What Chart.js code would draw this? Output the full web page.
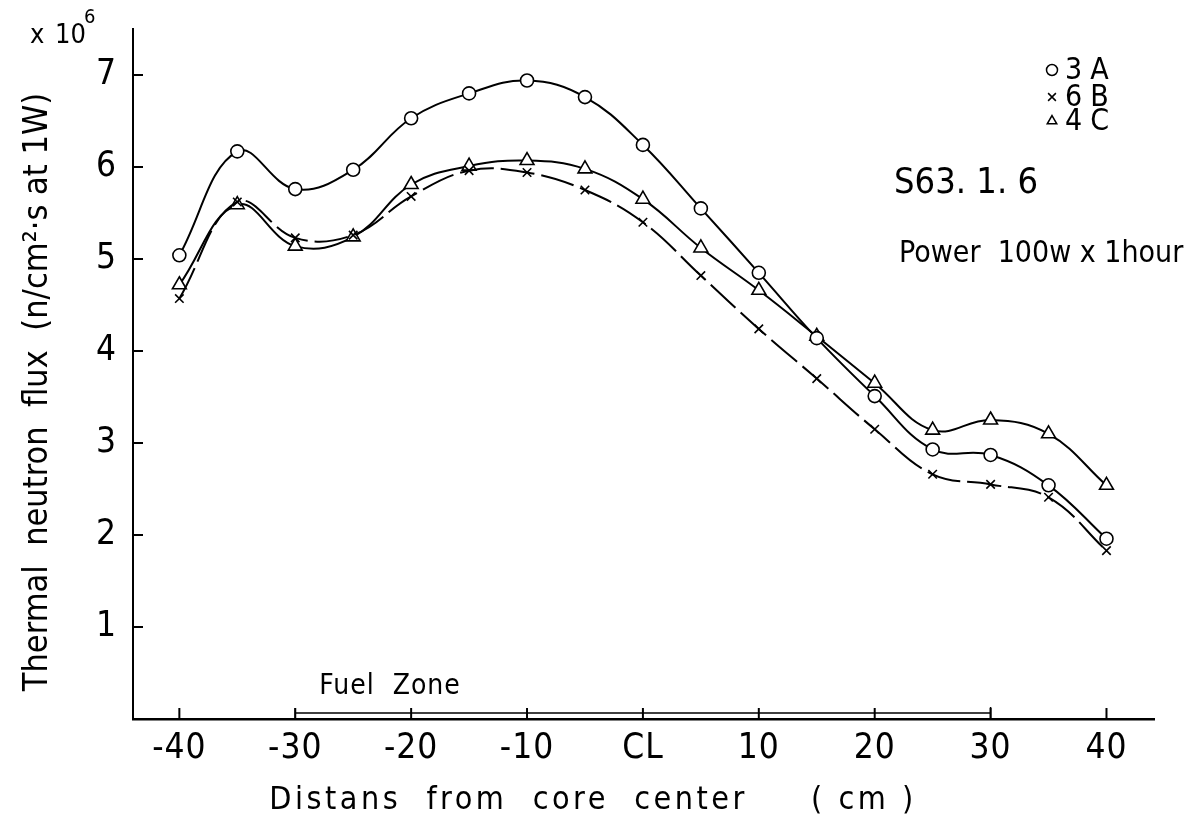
<!DOCTYPE html>
<html>
<head>
<meta charset="utf-8">
<script src="https://cdn.jsdelivr.net/npm/chart.js@4.4.0/dist/chart.umd.min.js"></script>
<style>
html, body { margin: 0; padding: 0; background: #fff; }
#wrap { width: 1190px; height: 825px; }
</style>
</head>
<body>
<div id="wrap"><canvas id="flux"></canvas></div>
<script>
// distance from core center (cm) and flux (x 10^6 n/cm2 s at 1W)
var positions = [-40, -35, -30, -25, -20, -15, -10, -5, 0, 5, 10, 15, 20, 25, 30, 35, 40];
var flux3A = [5.04, 6.17, 5.76, 5.97, 6.53, 6.80, 6.94, 6.76, 6.24, 5.55, 4.85, 4.14, 3.51, 2.93, 2.87, 2.54, 1.96];
var flux6B = [4.57, 5.62, 5.23, 5.26, 5.68, 5.96, 5.94, 5.75, 5.40, 4.82, 4.24, 3.70, 3.15, 2.66, 2.55, 2.41, 1.83];
var flux4C = [4.72, 5.59, 5.14, 5.24, 5.81, 6.01, 6.07, 5.98, 5.65, 5.12, 4.66, 4.16, 3.65, 3.14, 3.25, 3.10, 2.54];
var seriesNames = ['3A', '6B', '4C'];
var xTicks = [-40, -30, -20, -10, 0, 10, 20, 30, 40];
var xTickLabels = ['-40', '-30', '-20', '-10', 'CL', '10', '20', '30', '40'];
var yTicks = [1, 2, 3, 4, 5, 6, 7];
var fuelZone = [-30, 30];

var FONT = "'DejaVu Sans Condensed', 'Liberation Sans Narrow', 'Liberation Sans', sans-serif";
Chart.defaults.font.family = FONT;
Chart.defaults.color = '#000';

function toPoints(vals) {
    return positions.map(function(x, i) { return {x: x, y: vals[i]}; });
}

function line(ctx, x1, y1, x2, y2) {
    ctx.beginPath();
    ctx.moveTo(x1, y1);
    ctx.lineTo(x2, y2);
    ctx.stroke();
}

var spacing = {
    id: 'spacing',
    beforeDraw: function(chart) {
        chart.ctx.letterSpacing = '1px';
    }
};

var annotations = {
    id: 'annotations',
    afterDraw: function(chart) {
        var ctx = chart.ctx, xs = chart.scales.x, ys = chart.scales.y, area = chart.chartArea;
        ctx.save();
        ctx.strokeStyle = '#000';
        ctx.fillStyle = '#000';
        ctx.lineWidth = 2;

        // inward tick marks
        yTicks.forEach(function(v) {
            var py = ys.getPixelForValue(v);
            line(ctx, area.left, py, area.left + 10, py);
        });
        xTicks.forEach(function(v) {
            var px = xs.getPixelForValue(v);
            line(ctx, px, area.bottom, px, area.bottom - 11);
        });

        // fuel zone bar
        var fx1 = xs.getPixelForValue(fuelZone[0]), fx2 = xs.getPixelForValue(fuelZone[1]);
        var fy = area.bottom - 6;
        ctx.lineWidth = 1.5;
        line(ctx, fx1, fy, fx2, fy);
        line(ctx, fx1, fy - 5, fx1, fy + 5);
        line(ctx, fx2, fy - 6, fx2, fy + 5);
        ctx.font = '28px ' + FONT;
        ctx.textAlign = 'left';
        ctx.textBaseline = 'middle';
        ctx.letterSpacing = '1px';
        ctx.fillText('Fuel  Zone', fx1 + 24, area.bottom - 32);

        // legend
        ctx.font = '30px ' + FONT;
        ctx.letterSpacing = '8px';
        var rows = [70, 97, 121];
        chart.data.datasets.forEach(function(ds, i) {
            ctx.lineWidth = 1.5;
            ctx.fillStyle = '#fff';
            Chart.helpers.drawPoint(ctx, {pointStyle: ds.pointStyle, radius: 5.5, rotation: 0, borderWidth: 1.5}, 1052, rows[i]);
            ctx.fillStyle = '#000';
            ctx.fillText(seriesNames[i], 1065, rows[i] + 1);
        });

        // notes
        ctx.letterSpacing = '0px';
        ctx.font = '36px ' + FONT;
        ctx.fillText('S63. 1. 6', 894, 184);
        ctx.font = '30px ' + FONT;
        ctx.fillText('Power  100w x 1hour', 899, 254);

        // multiplier
        ctx.font = '27px ' + FONT;
        ctx.fillText('x', 30, 36);
        ctx.fillText('10', 55, 36);
        ctx.font = '20px ' + FONT;
        ctx.fillText('6', 84, 18);

        // axis titles
        ctx.textAlign = 'center';
        ctx.font = '32px ' + FONT;
        ctx.letterSpacing = '3.5px';
        ctx.fillText('Distans  from  core  center     ( cm )', 593, 801);
        ctx.letterSpacing = '0px';
        ctx.font = '34px ' + FONT;
        ctx.translate(38, 392);
        ctx.rotate(-Math.PI / 2);
        ctx.fillText('Thermal  neutron  flux  (n/cm\u00b2\u00b7s at 1W)', 0, 0);
        ctx.restore();
    }
};

new Chart(document.getElementById('flux'), {
    type: 'line',
    data: {
        datasets: [{
            label: seriesNames[0],
            data: toPoints(flux3A),
            pointStyle: 'circle',
            pointRadius: 6.5,
            pointBackgroundColor: '#fff',
            pointBorderColor: '#000',
            pointBorderWidth: 1.6,
            borderColor: '#000',
            borderWidth: 2,
            tension: 0.4
        }, {
            label: seriesNames[1],
            data: toPoints(flux6B),
            pointStyle: 'crossRot',
            pointRadius: 6,
            pointBorderColor: '#000',
            pointBorderWidth: 1.6,
            borderColor: '#000',
            borderWidth: 2,
            borderDash: [34, 7],
            tension: 0.4
        }, {
            label: seriesNames[2],
            data: toPoints(flux4C),
            pointStyle: 'triangle',
            pointRadius: 8,
            pointBackgroundColor: '#fff',
            pointBorderColor: '#000',
            pointBorderWidth: 1.6,
            borderColor: '#000',
            borderWidth: 2,
            tension: 0.4
        }]
    },
    options: {
        responsive: true,
        maintainAspectRatio: false,
        animation: false,
        layout: { padding: { top: 22, right: 36, left: 0, bottom: 0 } },
        plugins: {
            legend: { display: false },
            tooltip: { enabled: false }
        },
        scales: {
            x: {
                type: 'linear',
                min: -44,
                max: 44.1,
                grid: { display: false },
                border: { display: true, color: '#000', width: 2.5 },
                afterBuildTicks: function(scale) {
                    scale.ticks = xTicks.map(function(v) { return {value: v}; });
                },
                afterFit: function(scale) { scale.height = 106; },
                ticks: {
                    padding: 1,
                    maxRotation: 0,
                    font: { size: 35 },
                    callback: function(v) {
                        var i = xTicks.indexOf(v);
                        return i < 0 ? '' : xTickLabels[i];
                    }
                }
            },
            y: {
                type: 'linear',
                min: 0,
                max: 7.5,
                grid: { display: false },
                border: { display: true, color: '#000', width: 2 },
                afterBuildTicks: function(scale) {
                    scale.ticks = yTicks.map(function(v) { return {value: v}; });
                },
                afterFit: function(scale) { scale.width = 133; },
                ticks: {
                    padding: 8,
                    font: { size: 35 }
                }
            }
        }
    },
    plugins: [spacing, annotations]
});
</script>
</body>
</html>
